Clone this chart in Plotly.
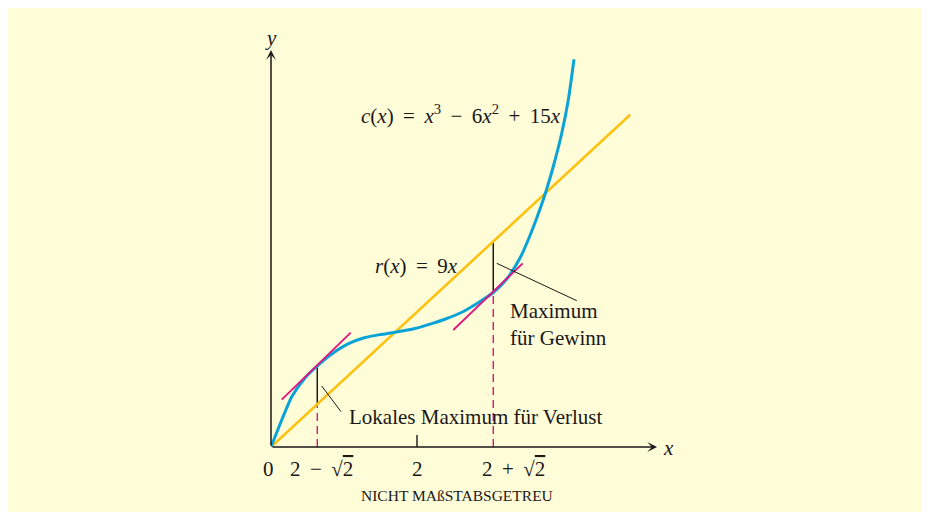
import plotly.graph_objects as go

# ---- data (drawing is "not to scale") ----
c_x = [0.0, 0.147, 0.284, 0.466, 0.634, 0.832, 1.055, 1.288, 1.5, 1.699, 1.973, 2.2,
       2.4, 2.6, 2.8, 3.045, 3.229, 3.411, 3.548, 3.695, 3.777, 3.867, 3.982, 4.073, 4.151]
c_y = [0.0, 3.6, 6.71, 9.2, 10.8, 12.4, 13.75, 14.6, 15.0, 15.3, 15.8, 16.45,
       17.1, 17.9, 19.0, 20.6, 22.4, 25.2, 28.2, 32.0, 34.4, 37.4, 41.8, 46.3, 51.7]

r_x = [0.0, 4.92]
r_y = [0.0, 44.3]

tan_left_x = [0.147, 1.092]
tan_left_y = [6.31, 15.24]
tan_right_x = [2.497, 3.448]
tan_right_y = [15.6, 24.49]

crit_x = [0.634, 3.045]      # 2 - sqrt2, 2 + sqrt2
crit_c = [10.8, 20.6]        # c at critical points
crit_r = [5.6, 27.4]         # r at critical points

TS = "\u2009"  # thin space (math spacing)
SQ2 = "√<span style='text-decoration:overline'>2</span>"
tick_vals = [0.0, 0.634, 2.0, 3.045]
tick_text = ["0", f"2 {TS}−{TS} {SQ2}", "2", f"2 {TS}+{TS} {SQ2}"]

ptr_left_x = [0.695, 0.959]
ptr_left_y = [8.13, 4.71]
ptr_right_x = [3.092, 4.188]
ptr_right_y = [24.49, 19.51]

x_axis_end = 5.288
y_axis_end = 52.93

# ---- styles ----
BG = "#FFFDD8"
BLUE = "#0AA3D8"
GOLD = "#FDC20F"
MAG = "#E3127E"
INK = "#1A1718"
FONT = "Liberation Serif"

fig = go.Figure()

def line(x, y, color, width, dash=None, shape="linear", smoothing=None):
    ln = dict(color=color, width=width, shape=shape)
    if dash:
        ln["dash"] = dash
    if smoothing is not None:
        ln["smoothing"] = smoothing
    fig.add_trace(go.Scatter(x=x, y=y, mode="lines", line=ln, hoverinfo="skip",
                             cliponaxis=False))

# dashed magenta verticals
line([crit_x[0], crit_x[0]], [0, crit_r[0]], MAG, 1.4, dash="8px,5px")
line([crit_x[1], crit_x[1]], [0, crit_c[1]], MAG, 1.4, dash="8px,5px")
# black vertical gaps
line([crit_x[0], crit_x[0]], [crit_r[0], crit_c[0]], INK, 1.5)
line([crit_x[1], crit_x[1]], [crit_c[1], crit_r[1]], INK, 1.5)
# r(x)
line(r_x, r_y, GOLD, 2.6)
# c(x)
line(c_x, c_y, BLUE, 3, shape="spline", smoothing=0.6)
# tangents
line(tan_left_x, tan_left_y, MAG, 1.8)
line(tan_right_x, tan_right_y, MAG, 1.8)
# pointer lines
line(ptr_left_x, ptr_left_y, INK, 1)
line(ptr_right_x, ptr_right_y, INK, 1)

txt = dict(family=FONT, size=21, color=INK)
ann = []
# axes with arrowheads
ann.append(dict(x=x_axis_end, y=0, ax=0, ay=0, axref="x", ayref="y",
                text="", showarrow=True, arrowhead=3, arrowsize=1.1, arrowwidth=1.5,
                arrowcolor=INK, standoff=0, startstandoff=0))
ann.append(dict(x=0, y=y_axis_end, ax=0, ay=0, axref="x", ayref="y",
                text="", showarrow=True, arrowhead=3, arrowsize=1.1, arrowwidth=1.5,
                arrowcolor=INK, standoff=0, startstandoff=0))

shifts = [-3, 4, 0, 20]
for v, t, s in zip(tick_vals, tick_text, shifts):
    ann.append(dict(x=v, y=0, text=t, showarrow=False,
                    xanchor="center", yanchor="top", yshift=-8, xshift=s, font=txt))

ann += [
    dict(x=0, y=y_axis_end, text="<i>y</i>", showarrow=False, xanchor="center",
         yanchor="middle", yshift=12, font=txt),
    dict(x=x_axis_end, y=0, text="<i>x</i>", showarrow=False, xanchor="center",
         yanchor="middle", xshift=11, yshift=-1, font=txt),
    dict(x=1.21, y=44.27,
         text=(f"<i>c</i>(<i>x</i>) {TS}={TS} <i>x</i><sup>3</sup> {TS}−{TS} "
               f"6<i>x</i><sup>2</sup> {TS}+{TS} 15<i>x</i>"),
         showarrow=False, xanchor="left", yanchor="middle", font=txt),
    dict(x=1.401, y=24.13, text=f"<i>r</i>(<i>x</i>) {TS}={TS} 9<i>x</i>", showarrow=False,
         xanchor="left", yanchor="middle", font=txt),
    dict(x=1.037, y=4.0, text="Lokales Maximum für Verlust", showarrow=False,
         xanchor="left", yanchor="middle", font=txt),
    dict(x=3.251, y=16.4, text="Maximum<br>für Gewinn", showarrow=False, align="left",
         xanchor="left", yanchor="middle", font=txt),
    dict(x=2.544, y=0, text="NICHT MAßSTABSGETREU", showarrow=False,
         xanchor="center", yanchor="middle", yshift=-48,
         font=dict(family=FONT, size=15.5, color=INK)),
]
for a in ann:
    a["xref"] = "x"
    a["yref"] = "y"

shapes = [
    # tick mark at x = 2
    dict(type="line", xref="x", yref="y", x0=tick_vals[2], x1=tick_vals[2],
         ysizemode="pixel", yanchor=0, y0=0, y1=12, line=dict(color=INK, width=1.4)),
]

fig.update_layout(
    width=930, height=512,
    margin=dict(l=263, r=267, t=39, b=73),
    paper_bgcolor=BG, plot_bgcolor=BG,
    showlegend=False,
    xaxis=dict(range=[0, 5.4795], visible=False),
    yaxis=dict(range=[0, 53.333], visible=False),
    annotations=ann, shapes=shapes,
)

fig.write_html("out.html")
